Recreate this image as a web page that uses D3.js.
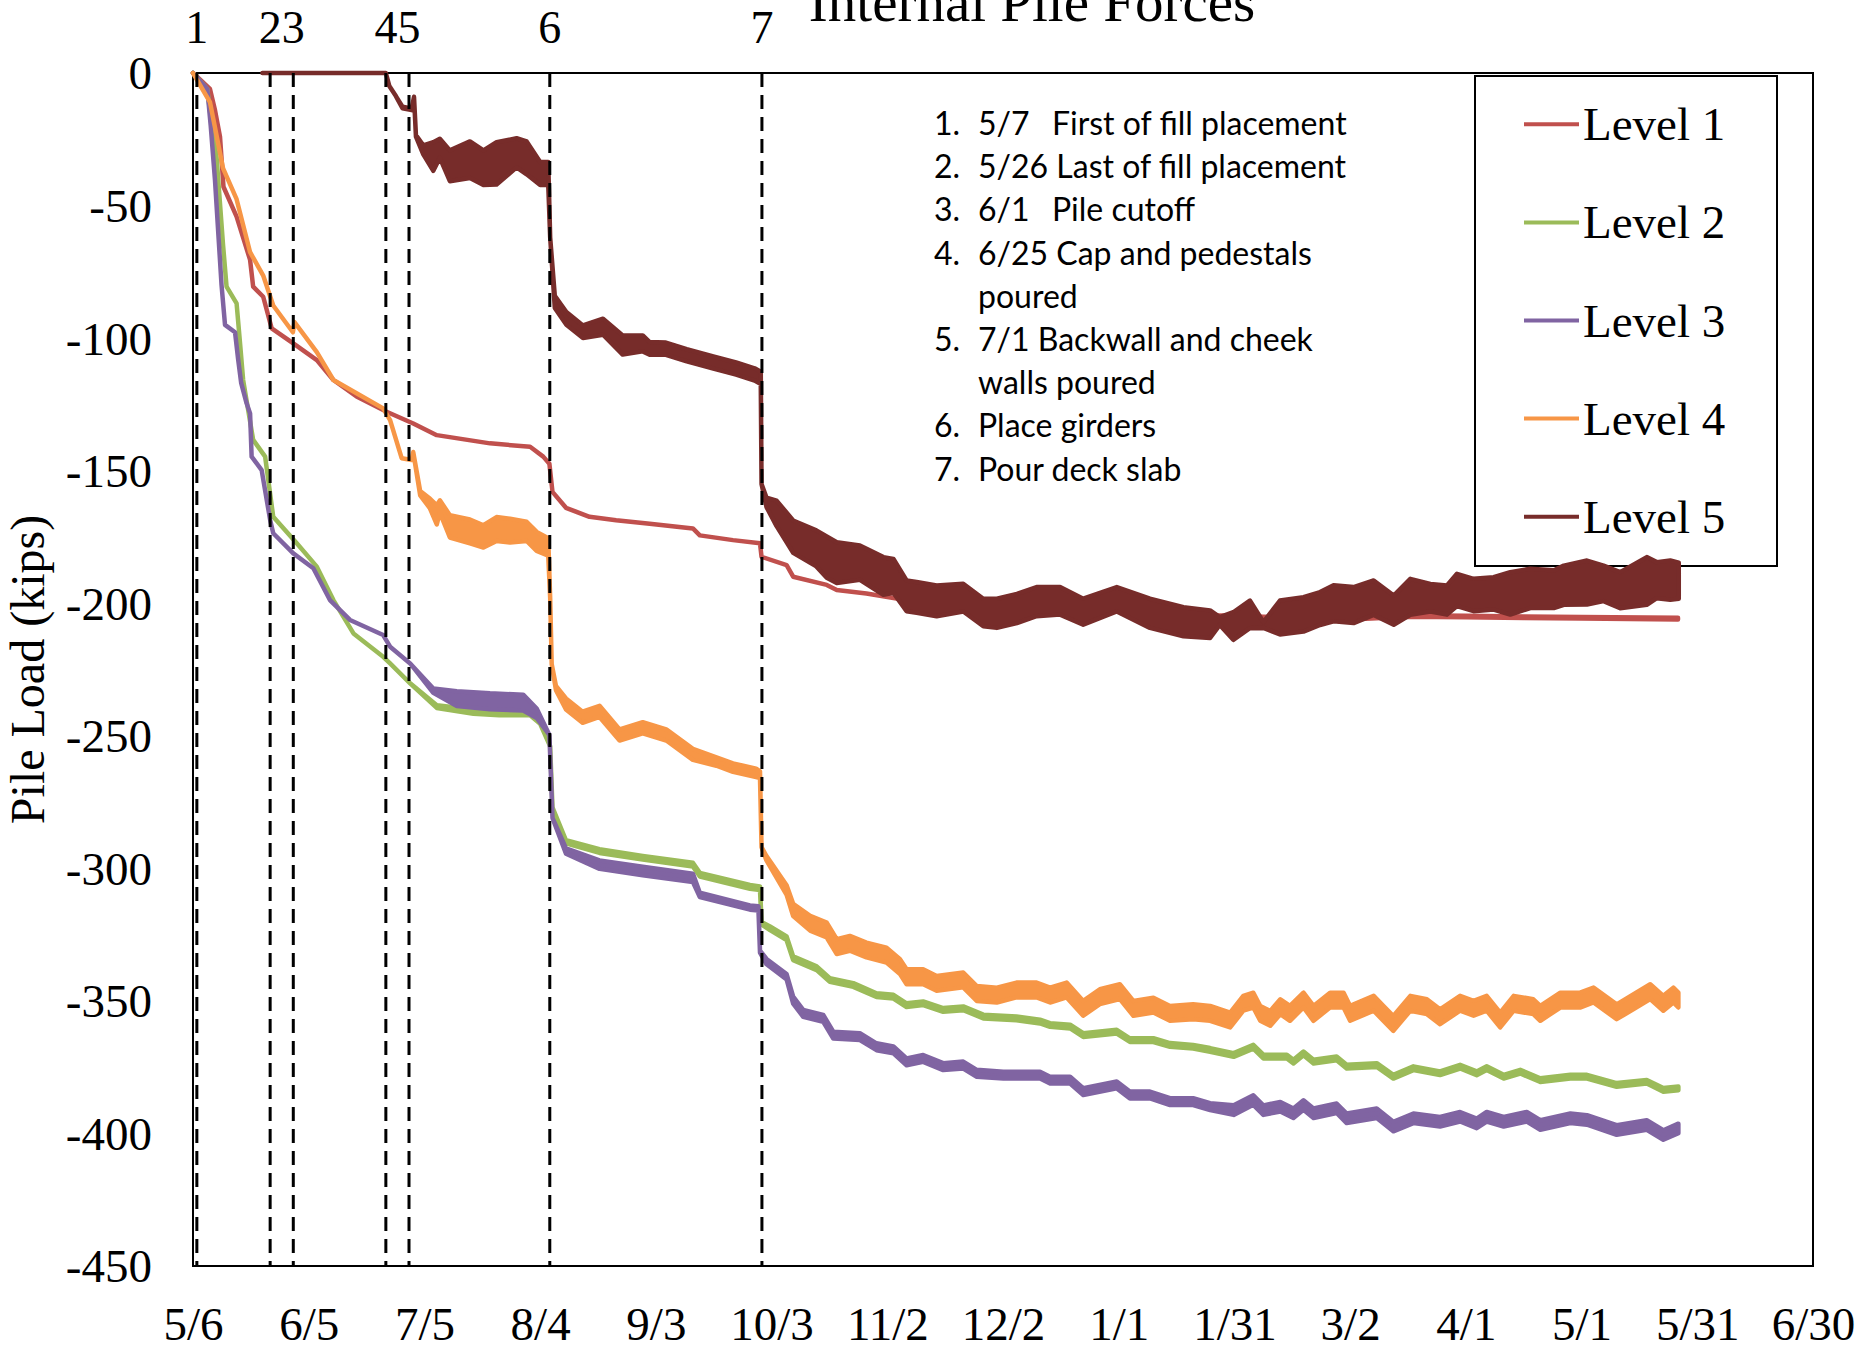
<!DOCTYPE html>
<html>
<head>
<meta charset="utf-8">
<script src="https://cdn.jsdelivr.net/npm/d3@7"></script>
<style>
  body { margin: 0; background: #fff; }
  svg { display: block; }
</style>
</head>
<body>
<svg id="chart" width="1864" height="1348"></svg>
<script>
// Days are counted from 5/6 (day 0). Each row: [day, load (kips), half-width of the daily scatter band (kips)]
const xTickDays = [0, 30, 60, 90, 120, 150, 180, 210, 240, 270, 300, 330, 360, 390, 420];
const xTickLabels = ["5/6", "6/5", "7/5", "8/4", "9/3", "10/3", "11/2", "12/2", "1/1", "1/31", "3/2", "4/1", "5/1", "5/31", "6/30"];
const yTickValues = [0, -50, -100, -150, -200, -250, -300, -350, -400, -450];

const seriesNames = ["Level 1", "Level 2", "Level 3", "Level 4", "Level 5"];
const seriesColors = ["#C0504D", "#9BBB59", "#8064A2", "#F79646", "#772C2A"];

// Construction events (day after 5/6)
const eventDays = [1, 20, 26, 50, 56, 92.5, 147.5];
const eventMarkLabels = ["1", "23", "45", "6", "7"];
const eventMarkGroups = [[0], [1, 2], [3, 4], [5], [6]];

const eventNotes = [
  { num: "1.", lines: [["5/7", "First of fill placement"]] },
  { num: "2.", lines: [["5/26 Last of fill placement"]] },
  { num: "3.", lines: [["6/1", "Pile cutoff"]] },
  { num: "4.", lines: [["6/25 Cap and pedestals"], ["poured"]] },
  { num: "5.", lines: [["7/1 Backwall and cheek"], ["walls poured"]] },
  { num: "6.", lines: [["Place girders"]] },
  { num: "7.", lines: [["Pour deck slab"]] }
];

const level1 = [
  [0,0,0],[4.4,-6,0],[5.7,-14,0],[7,-24,0],[7.9,-42.9,0],[11.3,-54.2,0],[14.8,-70.5,0],
  [15.6,-80.6,0],[18.2,-84.4,0],[20.4,-96.3,0],[26,-102,0],[32.1,-108.3,0],[36.4,-115.8,0],
  [42.4,-122,0],[50.2,-127.8,0],[57.1,-132.2,0],[63.2,-136.6,0],[77,-139.7,0],[87.4,-141,0],
  [90.8,-144.7,0],[92.4,-147.4,0],[93.2,-158,0],[96.7,-164,0],[102.8,-167.4,0],[109.7,-168.7,0],
  [118.4,-170,0],[129.6,-171.8,0],[131.4,-174.4,0],[140,-176.2,0],[147,-177.4,0],[147.4,-182.5,0],
  [153.9,-185.6,0],[155.6,-190,0],[164.3,-193.1,0],[166.9,-195,0],[174.6,-196.3,0],[182.4,-198.2,0],
  [185.9,-199.4,0],[210,-201,0.3],[239.5,-202.6,0.3],[265,-204.8,0.3],[280,-205.5,0.3],
  [300,-205.8,0.3],[315,-204.8,0.3],[330,-205,0.3],[345,-205.3,0.3],[360,-205.5,0.3],[385,-205.8,0.3]
];

const level2 = [
  [0,0,0],[3.7,-6,0],[4.7,-18,0],[6.1,-31.6,0],[7.8,-65,0],[8.7,-80.6,0],[11.3,-86.9,0],
  [12.2,-102,0],[13,-115.8,0],[15.6,-138.4,0],[18.7,-144.7,0],[20.8,-167.4,0],[26.9,-177.4,0],
  [32.1,-186.2,0],[36.4,-198.8,0],[41.6,-211.4,0],[49.3,-220.2,0],[51.1,-222.7,0],[56.3,-230.2,0],
  [63.2,-239,0.5],[72.7,-240.9,0.8],[79.4,-241.5,0.8],[87.4,-241.5,0.8],[90,-245,0.5],[92.6,-254,0],
  [93.2,-277,0],[96.7,-290,0.6],[105.4,-293.5,0.7],[116.6,-296,0.7],[129.6,-298.6,0.7],
  [131.4,-302.4,0.7],[144.4,-307,0.7],[147,-307.5,0.7],[147.4,-320.7,0.5],[149.6,-322.6,0.7],
  [153.9,-326.4,0.7],[155.6,-333.9,0.7],[161.7,-337.7,0.7],[165.1,-342.1,0.7],[171.2,-344,0.7],
  [177.2,-347.8,0.7],[181.6,-348.4,0.7],[185,-351.6,0.7],[189.3,-350.9,0.7],[194.5,-353.4,0.7],
  [199.7,-352.8,0.7],[204.9,-355.9,0.7],[213.5,-356.6,0.7],[219.6,-357.8,0.7],[222.2,-359.1,0.7],
  [227.4,-359.7,0.7],[230.8,-362.9,0.7],[239.5,-361.6,0.7],[242.9,-364.8,0.7],[249,-364.8,0.7],
  [253.3,-366.6,0.7],[259.3,-367.3,0.7],[263.7,-368.5,0.7],[269.8,-370.4,0.7],[274.9,-367.3,0.7],
  [277.5,-371,0.7],[283.6,-371,0.7],[285.3,-372.9,0.7],[287.9,-369.8,0.7],[290.5,-372.9,0.7],
  [296.5,-371.7,0.7],[299.1,-374.8,0.7],[306.9,-374.2,0.7],[311.2,-378.6,0.7],[316.4,-375.4,0.7],
  [323.3,-377.3,0.7],[328.5,-374.8,0.7],[332.8,-377.3,0.7],[335.4,-375.4,0.7],[339.8,-378.6,0.7],
  [344.1,-376.7,0.7],[349.3,-379.9,0.7],[357.1,-378.6,0.7],[361.4,-378.6,0.7],[369.1,-381.7,0.7],
  [376.9,-380.5,0.7],[381.2,-383.6,0.7],[385.1,-383,0.7]
];

const level3 = [
  [0,0,0],[3.7,-6,0],[4.6,-20,0],[5.7,-40.4,0],[6.6,-61.4,0],[7.4,-80,0],[8.3,-95,0],
  [10.9,-97.8,0],[11.7,-108,0],[12.5,-117,0],[13.9,-124.6,0],[14.8,-128.4,0],[15.2,-144.7,0],
  [17.8,-149.8,0],[20,-168.6,0],[20.8,-173.6,0],[26,-181.2,0],[31.2,-186.8,0],[35.5,-198.8,0],
  [40.7,-206.3,0],[49.3,-212,0],[51.1,-216.4,0],[56.3,-222.7,0],[62.3,-233,0.8],[68.4,-236,2.8],
  [77,-237,3],[85.6,-237.5,3],[89.1,-241.5,1.8],[92.4,-249.7,0],[93.2,-281,0],[96.7,-293.5,1],
  [105.4,-298.6,1.6],[116.6,-301,1.6],[129.6,-303.6,1.6],[131.4,-310,0.8],[144.4,-314.8,0.8],
  [146.6,-315.1,0.8],[147,-331.4,0.4],[148.7,-335.2,1],[153.9,-340.9,1],[155.6,-349.7,1.3],
  [158.2,-354.7,1.3],[163.4,-356.6,1.3],[166,-362.9,1.3],[172.9,-363.5,1.3],[177.2,-367.3,1.3],
  [181.6,-368.5,1.3],[185,-373,1.3],[189.3,-371.7,1.3],[194.5,-374.8,1.3],[199.7,-374.2,1.3],
  [203.2,-377.3,1.3],[210.1,-378,1.3],[219.6,-378,1.3],[222.2,-379.9,1.3],[227.4,-379.9,1.3],
  [230.8,-384.2,1.3],[239.5,-381.7,1.3],[242.9,-385.5,1.3],[248.1,-385.5,1.3],[253.3,-388,1.3],
  [259.3,-388,1.3],[263.7,-389.9,1.3],[269.8,-391.2,1.8],[274.9,-387.4,1.8],[277.5,-391.2,1.8],
  [281.9,-389.9,1.8],[285.3,-392.4,1.8],[287.9,-389.3,1.8],[290.5,-392.4,1.8],[296.5,-390.5,1.8],
  [299.1,-394.3,1.8],[306.9,-392.4,1.8],[311.2,-397.4,1.8],[316.4,-394.3,1.8],[323.3,-395.6,1.8],
  [328.5,-393.7,1.8],[332.8,-396.2,1.8],[335.4,-393.7,1.8],[339.8,-395.6,1.8],[345.8,-393.7,1.8],
  [349.3,-396.8,1.8],[357.1,-394.3,1.8],[361.4,-394.9,1.8],[369.1,-398.7,1.8],[376.9,-396.8,1.8],
  [381.2,-400.6,1.8],[385.1,-398.1,1.8]
];

const level4 = [
  [0,0,0],[4.4,-11,0],[7.8,-36,0],[11.3,-47.6,0],[14.8,-67.6,0],[18.2,-76.4,0],[20.8,-87.7,0],
  [25.9,-97.8,0],[26.3,-94,0],[32.1,-105.3,0],[36.4,-115.8,0],[42.4,-120.8,0],[49.3,-126.5,0],
  [51.1,-130.9,0],[54.1,-145.3,0],[56.7,-146,0],[57.1,-143,0],[58.9,-158.5,0.8],[61.4,-162.3,1.8],
  [63.2,-166.7,3.6],[64,-163.5,2.3],[66.6,-171,4.2],[71.8,-172.9,4.5],[75.3,-174.8,4.2],
  [78.7,-172,4.5],[82.2,-172.6,4.5],[86.5,-172.9,3.6],[89.1,-176.7,3.6],[92.1,-178.8,3.3],
  [92.6,-198,0],[93,-223,0],[94.1,-232,0.8],[96.7,-238,2.1],[101,-243,2.1],[105.4,-240.8,2.1],
  [110.6,-249.7,2.1],[116.6,-247,2.1],[122.7,-249.7,2.1],[129.6,-257,2.1],[135.7,-259.7,1.6],
  [140,-262,1.6],[146,-264,1.6],[147,-264.7,1.3],[147.4,-292,0],[148.6,-296,0.8],[153.9,-308.2,1.8],
  [155.6,-315.7,2.3],[160,-320.7,2.8],[164.3,-323.3,2.8],[166.9,-329.5,2.8],[170.3,-328.3,2.8],
  [174.6,-330.8,2.8],[179.8,-332.7,2.8],[183.3,-337.1,2.8],[185,-340.9,2.8],[189.3,-340.9,2.8],
  [192.8,-343.4,2.8],[199.7,-342.1,2.8],[203.2,-347.2,2.8],[208.4,-347.8,2.8],[213.5,-345.9,2.8],
  [218.7,-345.9,2.8],[222.2,-347.8,2.8],[226.5,-345.9,2.8],[230.8,-352.8,2.8],[235.1,-348.4,2.8],
  [240.3,-346.5,2.8],[243.8,-352.8,2.8],[249,-351.6,2.8],[253.3,-354.7,2.8],[259.3,-354.1,2.8],
  [263.7,-354.7,2.8],[268.9,-357.2,2.8],[272.3,-350.9,2.8],[274.9,-349.7,2.8],[276.7,-354.7,2.8],
  [279.3,-356.6,2.8],[281.9,-352.2,2.8],[284.4,-354.7,2.8],[287.9,-349.7,2.8],[290.5,-354.7,2.8],
  [294.8,-349.7,2.8],[298.3,-349.7,2.8],[300,-354.7,2.8],[306.1,-350.9,2.8],[308.6,-354.7,2.8],
  [311.2,-358.5,2.8],[315.6,-350.9,2.8],[319.9,-352.2,2.8],[323.3,-356,2.8],[328.5,-350.9,2.8],
  [332,-352.8,2.8],[335.4,-350.9,2.8],[338.9,-357.2,2.8],[342.4,-350.9,2.8],[347.5,-352.2,2.8],
  [349.3,-354.7,2.8],[354.5,-349.7,2.8],[359.6,-349.7,2.8],[363.1,-347.8,2.8],[369.1,-354.1,2.8],
  [373.5,-350.3,2.8],[377.8,-346.5,2.8],[381.2,-350.9,2.8],[383.8,-347.8,2.8],[385.1,-349.7,2.8]
];

const level5 = [
  [18,0,0],[50,0,0],[50.9,-4.9,0],[52.6,-8.7,0],[54.3,-13,0.3],[56.7,-13.7,0.3],[57.3,-9,0],
  [57.8,-23.7,0.3],[59.7,-29,1.7],[62.3,-31.5,5.4],[64,-28.4,3.6],[66.6,-35,5.8],[71.8,-32.7,6.9],
  [75.3,-35.7,6.5],[78.7,-34.1,8],[83.9,-30.1,5.5],[86.5,-32,6.2],[90,-37.9,4.3],[92.1,-37.9,4.3],
  [92.6,-62,0],[93.8,-86.3,2.3],[96.8,-92.6,2.4],[101.1,-97.6,2.4],[106.3,-95.7,3],
  [111.4,-102.6,3.6],[116.6,-102,3],[118.4,-103.9,2.4],[122.6,-104,2.3],[128,-106.5,2.3],
  [134.9,-109.2,2.3],[140.8,-111.5,2.3],[145.6,-113.7,2.3],[147.2,-115,2.3],[147.4,-155,0],
  [148.7,-162,1.8],[151.3,-166.1,4.8],[155.6,-174.9,6.1],[161.6,-179.3,6.8],[164.3,-182.6,7.8],
  [166.9,-184.7,7.7],[172.9,-184.7,6.5],[179,-189.7,7.1],[181.6,-189.7,6.4],[185,-197.2,5.8],
  [187.6,-197.8,5.8],[192.8,-199.1,5.8],[199.7,-197.9,5.2],[204.9,-203.5,5.2],[208.4,-203.8,5.5],
  [213.6,-202,5.5],[218.7,-199.4,5.5],[224.8,-199.1,5.2],[230.8,-203.2,4.9],[239.5,-198.5,4.6],
  [248.1,-203.8,5.5],[256.8,-207,5.5],[263.7,-207.9,5.2],[266.2,-206.7,1.5],[269.7,-208.6,5.2],
  [274,-204.2,5.2],[277.5,-208.2,1.1],[281.8,-205.4,6.4],[287.9,-204.2,6.5],[292.2,-202,6.2],
  [295.7,-200,6.8],[300.9,-200.7,6.8],[306.1,-197.9,6.5],[311.3,-202.6,5.5],[315.6,-197.6,6.8],
  [320.8,-197.9,5.2],[325.1,-198.8,5.5],[327.7,-195,6.1],[332,-196.9,6.1],[337.2,-196.3,6.1],
  [341.5,-196.3,8],[346.7,-194.4,7.4],[352.8,-194.7,7.1],[355.4,-193.2,7.4],[361.4,-192.2,8.3],
  [365.7,-192.5,6.7],[370,-195.1,6.8],[376.9,-191.6,9],[379.5,-191.3,6.8],[383,-191.3,7.4],[385.2,-191.5,6.8]
];

const seriesData = [level1, level2, level3, level4, level5];

// ---- layout ----
const plot = { left: 193, right: 1813, top: 73, bottom: 1266 };
const svg = d3.select("#chart");
const serif = "'Liberation Serif', 'Times New Roman', serif";

const x = d3.scaleLinear().domain([0, 420]).range([plot.left, plot.right]);
const y = d3.scaleLinear().domain([-450, 0]).range([plot.bottom, plot.top]);

// title (runs off the top edge)
svg.append("text")
  .attr("x", 1032).attr("y", 21)
  .attr("text-anchor", "middle")
  .style("font-family", serif).style("font-size", "57px")
  .text("Internal Pile Forces");

// axes: labels only, no tick marks
const xAxis = d3.axisBottom(x)
  .tickValues(xTickDays)
  .tickFormat((d, i) => xTickLabels[i])
  .tickSize(0);
const gx = svg.append("g").attr("transform", `translate(0,${plot.bottom})`).call(xAxis);
gx.select(".domain").remove();
gx.selectAll("text").attr("y", 74).attr("dy", 0)
  .style("font-family", serif).style("font-size", "47px").attr("fill", "#000");

const yAxis = d3.axisLeft(y)
  .tickValues(yTickValues)
  .tickFormat(d => String(d))
  .tickSize(0);
const gy = svg.append("g").attr("transform", `translate(${plot.left},0)`).call(yAxis);
gy.select(".domain").remove();
gy.selectAll("text").attr("x", -41).attr("dy", "0.34em")
  .style("font-family", serif).style("font-size", "47px").attr("fill", "#000");

// axis title
svg.append("text")
  .attr("transform", `translate(44,${(plot.top + plot.bottom) / 2}) rotate(-90)`)
  .attr("text-anchor", "middle")
  .style("font-family", serif).style("font-size", "48px")
  .text("Pile Load (kips)");

// plot frame
svg.append("rect")
  .attr("x", plot.left).attr("y", plot.top)
  .attr("width", plot.right - plot.left).attr("height", plot.bottom - plot.top)
  .attr("fill", "none").attr("stroke", "#000").attr("stroke-width", 2);

// legend box (series may run across its lower edge)
const legend = svg.append("g");
legend.append("rect")
  .attr("x", 1475).attr("y", 76).attr("width", 302).attr("height", 490)
  .attr("fill", "none").attr("stroke", "#000").attr("stroke-width", 2);
seriesNames.forEach((name, i) => {
  const ly = 124.3 + i * 98.1;
  legend.append("line")
    .attr("x1", 1524).attr("x2", 1579).attr("y1", ly).attr("y2", ly)
    .attr("stroke", seriesColors[i]).attr("stroke-width", 4);
  legend.append("text")
    .attr("x", 1583).attr("y", ly + 16)
    .style("font-family", serif).style("font-size", "47px")
    .text(name);
});

// event notes
const notes = svg.append("g")
  .style("font-family", "Lato, 'Open Sans', sans-serif")
  .style("font-size", "32px").attr("fill", "#000");
let row = 0;
eventNotes.forEach(note => {
  const by = 135 + row * 43.2;
  notes.append("text").attr("x", 934).attr("y", by).text(note.num);
  note.lines.forEach((parts, k) => {
    const ly = 135 + (row + k) * 43.2;
    notes.append("text").attr("x", 978).attr("y", ly).text(parts[0]);
    if (parts[1]) notes.append("text").attr("x", 1052).attr("y", ly).text(parts[1]);
  });
  row += note.lines.length;
});

// series: centre line widened by the daily scatter band
const band = d3.area()
  .x(d => x(d[0]))
  .y0(d => y(d[1] + d[2]))
  .y1(d => y(d[1] - d[2]));
seriesData.forEach((rows, i) => {
  svg.append("path")
    .attr("d", band(rows))
    .attr("fill", seriesColors[i])
    .attr("stroke", seriesColors[i])
    .attr("stroke-width", 4.5)
    .attr("stroke-linejoin", "round");
});

// event lines and their numbers
svg.append("g").selectAll("line").data(eventDays).join("line")
  .attr("x1", d => x(d)).attr("x2", d => x(d))
  .attr("y1", plot.top).attr("y2", plot.bottom)
  .attr("stroke", "#000").attr("stroke-width", 3)
  .attr("stroke-dasharray", "14,8");

svg.append("g").selectAll("text").data(eventMarkLabels).join("text")
  .attr("x", (d, i) => d3.mean(eventMarkGroups[i], k => x(eventDays[k])))
  .attr("y", 43)
  .attr("text-anchor", "middle")
  .style("font-family", serif).style("font-size", "46px")
  .text(d => d);
</script>
</body>
</html>
